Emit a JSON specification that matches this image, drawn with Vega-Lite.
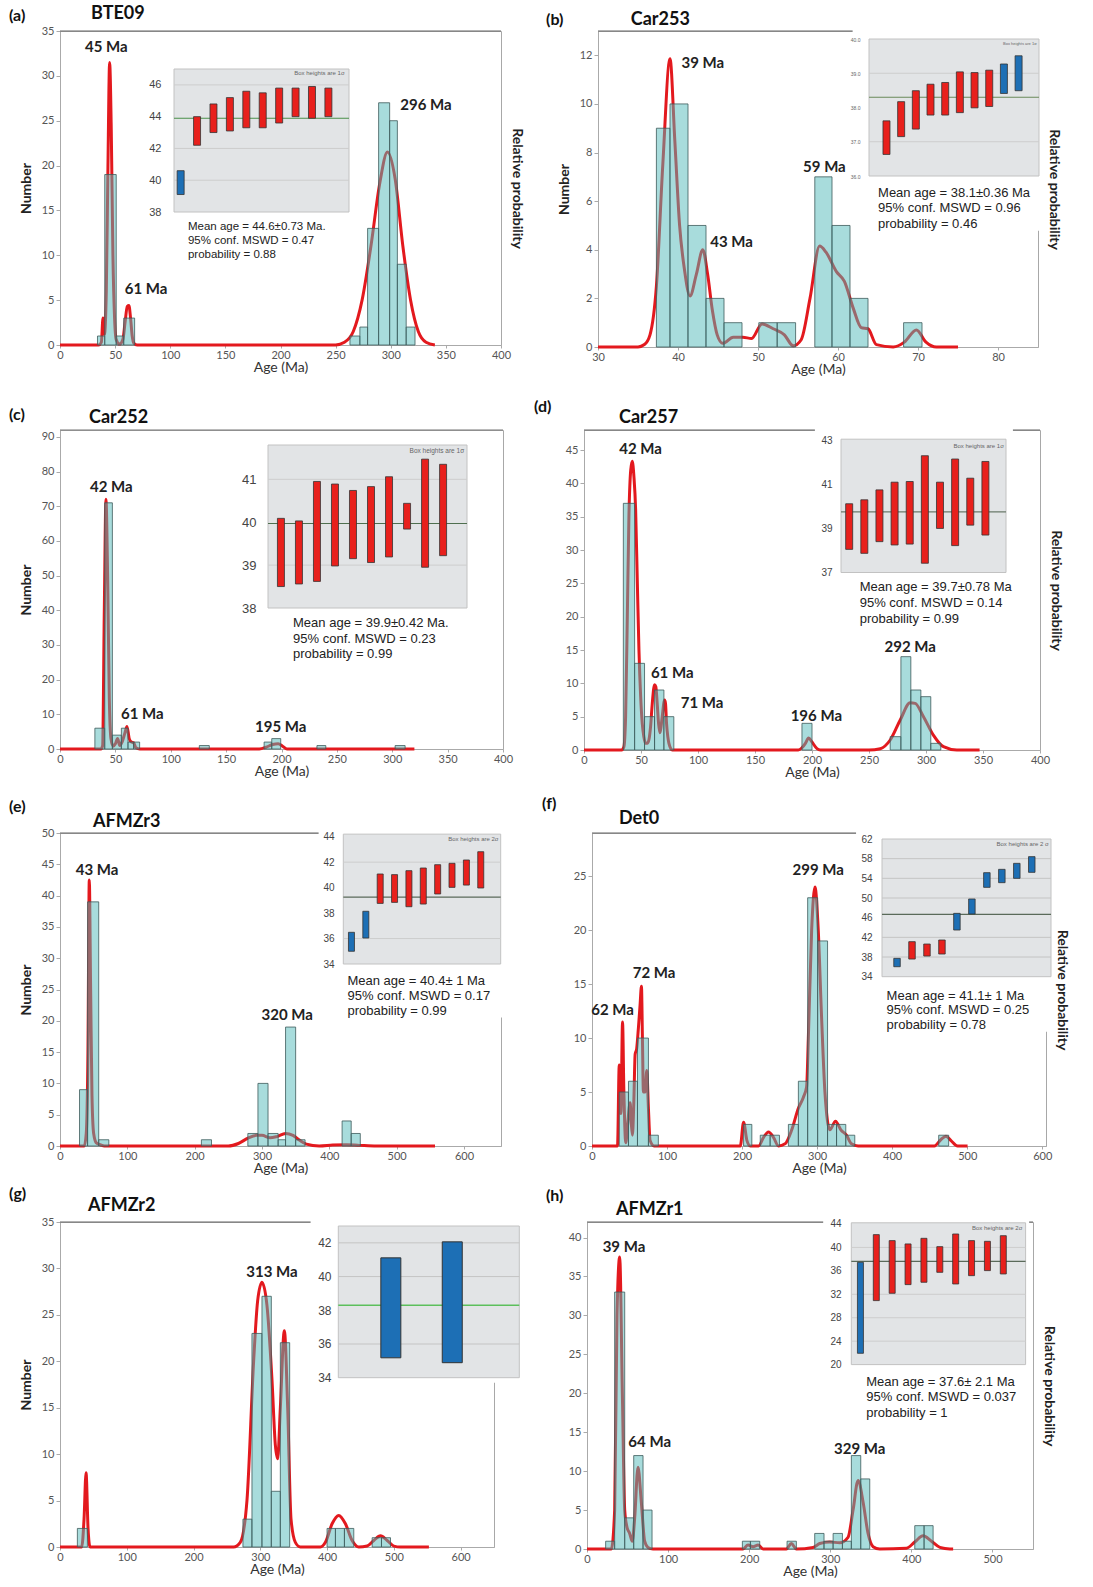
{
"$schema": "https://vega.github.io/schema/vega-lite/v6.json",
"background": "white",
"padding": {"left": 8, "top": 4, "right": 2, "bottom": 2},
"config": {
 "font": "Lato",
 "view": {"stroke": "#a8a8a8"},
 "axisX": {"grid": true, "gridColor": "#c8c8c8", "labelFlush": false, "labelFontSize": 11, "labelColor": "#555555", "tickSize": 3, "tickColor": "#aaaaaa", "domainColor": "#aaaaaa", "titleFontSize": 14, "titleFontWeight": "normal", "titleColor": "#333333", "titlePadding": 0, "labelPadding": 1},
 "axisY": {"grid": false, "labelFontSize": 11, "labelColor": "#555555", "tickSize": 4, "tickColor": "#aaaaaa", "domainColor": "#aaaaaa", "titleFontSize": 14, "titleFontWeight": "bold", "titleColor": "#222222", "titlePadding": 8, "labelPadding": 2}
},
"datasets": {
 "a_bars": [{"x0":34,"x1":40.6,"n":1},{"x0":40.6,"x1":51,"n":19},{"x0":51,"x1":57.8,"n":1},{"x0":57.8,"x1":67.7,"n":3},{"x0":263,"x1":272,"n":1},{"x0":272,"x1":279,"n":2},{"x0":279,"x1":289,"n":13},{"x0":289,"x1":299,"n":27},{"x0":299,"x1":306,"n":25},{"x0":306,"x1":314,"n":9},{"x0":314,"x1":322,"n":2}],
 "a_curve": [{"age":0,"p":0},{"age":35,"p":0},{"age":37.5,"p":0.3},{"age":39,"p":3},{"age":40.3,"p":1.2},{"age":42,"p":6},{"age":43.5,"p":20},{"age":45,"p":31.5},{"age":46.5,"p":24},{"age":48,"p":10},{"age":49.5,"p":3},{"age":51,"p":0.6},{"age":54,"p":0.1},{"age":57,"p":0.6},{"age":59,"p":2.5},{"age":61,"p":4.3},{"age":62.5,"p":4.4},{"age":64,"p":3},{"age":65.5,"p":1},{"age":67,"p":0.2},{"age":70,"p":0},{"age":250,"p":0},{"age":258,"p":0.3},{"age":266,"p":1.5},{"age":274,"p":5},{"age":282,"p":11},{"age":290,"p":18},{"age":297,"p":21.5},{"age":304,"p":18.5},{"age":311,"p":11},{"age":318,"p":5},{"age":325,"p":1.5},{"age":332,"p":0.3},{"age":340,"p":0}],
 "a_peaks": [{"age":42,"n":33.2,"label":"45 Ma"},{"age":78,"n":6.2,"label":"61 Ma"},{"age":332,"n":26.8,"label":"296 Ma"}],
 "a_boxes": [{"i":1,"lo":39.1,"hi":40.6,"group":"B"},{"i":2,"lo":42.2,"hi":44,"group":"A"},{"i":3,"lo":43,"hi":44.8,"group":"A"},{"i":4,"lo":43.1,"hi":45.2,"group":"A"},{"i":5,"lo":43.3,"hi":45.6,"group":"A"},{"i":6,"lo":43.3,"hi":45.5,"group":"A"},{"i":7,"lo":43.6,"hi":45.8,"group":"A"},{"i":8,"lo":44,"hi":45.8,"group":"A"},{"i":9,"lo":43.9,"hi":45.9,"group":"A"},{"i":10,"lo":44,"hi":45.8,"group":"A"}],
 "b_bars": [{"x0":37.3,"x1":39.0,"n":9},{"x0":39.0,"x1":41.25,"n":10},{"x0":41.25,"x1":43.5,"n":5},{"x0":43.5,"x1":45.75,"n":2},{"x0":45.75,"x1":48,"n":1},{"x0":50.1,"x1":52.4,"n":1},{"x0":52.4,"x1":54.7,"n":1},{"x0":57.1,"x1":59.25,"n":7},{"x0":59.25,"x1":61.5,"n":5},{"x0":61.5,"x1":63.75,"n":2},{"x0":68.2,"x1":70.5,"n":1}],
 "b_curve": [{"age":30,"p":0},{"age":35,"p":0},{"age":35.8,"p":0.1},{"age":36.5,"p":0.5},{"age":37.3,"p":2.5},{"age":38.1,"p":7.5},{"age":39,"p":11.86},{"age":39.6,"p":8.5},{"age":40.2,"p":5},{"age":40.8,"p":3.2},{"age":41.5,"p":2.1},{"age":42.3,"p":3},{"age":43.1,"p":4},{"age":43.7,"p":3},{"age":44.3,"p":1.5},{"age":44.9,"p":0.5},{"age":45.6,"p":0.15},{"age":46.9,"p":0.4},{"age":48.1,"p":0.4},{"age":49.2,"p":0.35},{"age":50.5,"p":0.95},{"age":51.9,"p":0.75},{"age":53.3,"p":0.5},{"age":54.4,"p":0.05},{"age":55.4,"p":0.3},{"age":56.5,"p":2},{"age":57.7,"p":4.15},{"age":58.5,"p":3.9},{"age":59.8,"p":3.1},{"age":60.8,"p":2.7},{"age":61.9,"p":1.6},{"age":62.9,"p":0.8},{"age":63.75,"p":0.75},{"age":64.8,"p":0.1},{"age":66.9,"p":0},{"age":68.3,"p":0.2},{"age":69.8,"p":0.7},{"age":71,"p":0.2},{"age":72.3,"p":0},{"age":75,"p":0}],
 "b_peaks": [{"age":43.1,"n":11.7,"label":"39 Ma"},{"age":46.7,"n":4.3,"label":"43 Ma"},{"age":58.3,"n":7.4,"label":"59 Ma"}],
 "b_boxes": [{"i":1,"lo":36.63,"hi":37.61,"group":"A"},{"i":2,"lo":37.15,"hi":38.17,"group":"A"},{"i":3,"lo":37.37,"hi":38.49,"group":"A"},{"i":4,"lo":37.78,"hi":38.68,"group":"A"},{"i":5,"lo":37.78,"hi":38.73,"group":"A"},{"i":6,"lo":37.85,"hi":39.04,"group":"A"},{"i":7,"lo":37.99,"hi":39.02,"group":"A"},{"i":8,"lo":38.03,"hi":39.09,"group":"A"},{"i":9,"lo":38.41,"hi":39.27,"group":"B"},{"i":10,"lo":38.49,"hi":39.51,"group":"B"}],
 "c_bars": [{"x0":31.5,"x1":40.4,"n":6},{"x0":40.4,"x1":47.3,"n":71},{"x0":47.3,"x1":55.4,"n":4},{"x0":55.4,"x1":61.4,"n":6},{"x0":61.4,"x1":66.5,"n":2},{"x0":66.5,"x1":71.9,"n":2},{"x0":125.8,"x1":134.8,"n":1},{"x0":184.3,"x1":191.2,"n":2},{"x0":191.2,"x1":199.3,"n":3},{"x0":232,"x1":240,"n":1},{"x0":302.6,"x1":311.6,"n":1}],
 "c_curve": [{"age":0,"p":0},{"age":37,"p":0},{"age":38.5,"p":1},{"age":40,"p":40},{"age":41.5,"p":72},{"age":43,"p":50},{"age":44.5,"p":15},{"age":46,"p":3},{"age":48,"p":0.8},{"age":50,"p":1.5},{"age":52,"p":3},{"age":54,"p":1},{"age":56,"p":2},{"age":58.5,"p":4.5},{"age":60.5,"p":6.5},{"age":62.5,"p":3},{"age":64.5,"p":2},{"age":66.5,"p":1.8},{"age":68.5,"p":0.4},{"age":72,"p":0},{"age":180,"p":0},{"age":186,"p":0.5},{"age":192,"p":1.3},{"age":197,"p":1.5},{"age":201,"p":0.8},{"age":205,"p":0},{"age":320,"p":0}],
 "c_peaks": [{"age":46.4,"n":75.5,"label":"42 Ma"},{"age":74.3,"n":10,"label":"61 Ma"},{"age":199.3,"n":6.3,"label":"195 Ma"}],
 "c_boxes": [{"i":1,"lo":38.5,"hi":40.09,"group":"A"},{"i":2,"lo":38.56,"hi":40.03,"group":"A"},{"i":3,"lo":38.62,"hi":40.95,"group":"A"},{"i":4,"lo":38.98,"hi":40.89,"group":"A"},{"i":5,"lo":39.15,"hi":40.74,"group":"A"},{"i":6,"lo":39.06,"hi":40.83,"group":"A"},{"i":7,"lo":39.19,"hi":41.06,"group":"A"},{"i":8,"lo":39.84,"hi":40.44,"group":"A"},{"i":9,"lo":38.95,"hi":41.47,"group":"A"},{"i":10,"lo":39.22,"hi":41.35,"group":"A"}],
 "d_bars": [{"x0":34.5,"x1":44.4,"n":37},{"x0":44.4,"x1":53.1,"n":13},{"x0":53.1,"x1":61.9,"n":5},{"x0":61.9,"x1":70.1,"n":9},{"x0":70.1,"x1":78.8,"n":5},{"x0":191.2,"x1":200,"n":4},{"x0":268.6,"x1":278,"n":2},{"x0":278,"x1":286.7,"n":14},{"x0":286.7,"x1":295.5,"n":9},{"x0":295.5,"x1":304.2,"n":8},{"x0":304.2,"x1":313,"n":1}],
 "d_curve": [{"age":0,"p":0},{"age":33,"p":0},{"age":35,"p":0.5},{"age":36.5,"p":5},{"age":38,"p":20},{"age":39.4,"p":35},{"age":41,"p":42},{"age":42.3,"p":43.3},{"age":43.8,"p":41},{"age":45.3,"p":36},{"age":46.8,"p":25},{"age":48.2,"p":15},{"age":49.7,"p":8},{"age":51.1,"p":4},{"age":52.5,"p":2},{"age":54,"p":1},{"age":55.5,"p":1},{"age":56.9,"p":1.5},{"age":58.4,"p":3.5},{"age":59.9,"p":7},{"age":61.9,"p":9.8},{"age":63,"p":9.5},{"age":64.2,"p":7},{"age":65.4,"p":4},{"age":66.6,"p":2.6},{"age":67.6,"p":3.5},{"age":68.6,"p":5},{"age":70.7,"p":7.5},{"age":71.5,"p":7},{"age":72.4,"p":4},{"age":73.5,"p":2},{"age":74.5,"p":1},{"age":77.4,"p":0},{"age":188,"p":0},{"age":191,"p":0.3},{"age":194.2,"p":1},{"age":197,"p":1.8},{"age":200,"p":1.2},{"age":204.4,"p":0.2},{"age":207.3,"p":0},{"age":250,"p":0},{"age":259.9,"p":0.2},{"age":268.6,"p":1.5},{"age":277.4,"p":4.5},{"age":286.1,"p":7.1},{"age":290.5,"p":7},{"age":297.8,"p":5},{"age":306.6,"p":2.2},{"age":315.3,"p":0.5},{"age":327,"p":0},{"age":347,"p":0}],
 "d_peaks": [{"age":49.6,"n":45.1,"label":"42 Ma"},{"age":77.4,"n":11.6,"label":"61 Ma"},{"age":103.6,"n":7,"label":"71 Ma"},{"age":203.8,"n":5.1,"label":"196 Ma"},{"age":286.1,"n":15.5,"label":"292 Ma"}],
 "d_boxes": [{"i":1,"lo":38.05,"hi":40.12,"group":"A"},{"i":2,"lo":37.87,"hi":40.3,"group":"A"},{"i":3,"lo":38.4,"hi":40.75,"group":"A"},{"i":4,"lo":38.25,"hi":41.1,"group":"A"},{"i":5,"lo":38.29,"hi":41.13,"group":"A"},{"i":6,"lo":37.42,"hi":42.3,"group":"A"},{"i":7,"lo":39.0,"hi":41.1,"group":"A"},{"i":8,"lo":38.22,"hi":42.15,"group":"A"},{"i":9,"lo":39.15,"hi":41.28,"group":"A"},{"i":10,"lo":38.7,"hi":42.04,"group":"A"}],
 "e_bars": [{"x0":29,"x1":41,"n":9},{"x0":41,"x1":57.5,"n":39},{"x0":57.5,"x1":72.5,"n":1},{"x0":210,"x1":225,"n":1},{"x0":279,"x1":294,"n":2},{"x0":294,"x1":309,"n":10},{"x0":309,"x1":324,"n":2},{"x0":324,"x1":335,"n":1},{"x0":335,"x1":350,"n":19},{"x0":350,"x1":364,"n":1},{"x0":419,"x1":432.5,"n":4},{"x0":432.5,"x1":446,"n":2}],
 "e_curve": [{"age":0,"p":0},{"age":36,"p":0},{"age":39,"p":2},{"age":41.5,"p":15},{"age":43.5,"p":42.5},{"age":45.5,"p":25},{"age":47.5,"p":8},{"age":50,"p":2},{"age":54,"p":0.5},{"age":60,"p":0.2},{"age":66,"p":0},{"age":250,"p":0},{"age":265,"p":0.4},{"age":280,"p":1.3},{"age":292,"p":1.7},{"age":300,"p":1.7},{"age":312,"p":1.3},{"age":322,"p":1.5},{"age":335,"p":2},{"age":346,"p":1.7},{"age":356,"p":0.9},{"age":366,"p":0.3},{"age":385,"p":0},{"age":405,"p":0.15},{"age":425,"p":0.2},{"age":445,"p":0.1},{"age":470,"p":0},{"age":557,"p":0}],
 "e_peaks": [{"age":55,"n":44.1,"label":"43 Ma"},{"age":337.5,"n":21,"label":"320 Ma"}],
 "e_boxes": [{"i":1,"lo":35.0,"hi":36.49,"group":"B"},{"i":2,"lo":36.04,"hi":38.14,"group":"B"},{"i":3,"lo":38.76,"hi":41.07,"group":"A"},{"i":4,"lo":38.84,"hi":41.02,"group":"A"},{"i":5,"lo":38.5,"hi":41.33,"group":"A"},{"i":6,"lo":38.71,"hi":41.54,"group":"A"},{"i":7,"lo":39.5,"hi":41.8,"group":"A"},{"i":8,"lo":40.02,"hi":41.91,"group":"A"},{"i":9,"lo":40.2,"hi":42.17,"group":"A"},{"i":10,"lo":39.97,"hi":42.82,"group":"A"}],
 "f_bars": [{"x0":36.3,"x1":48.6,"n":5},{"x0":48.6,"x1":60.6,"n":6},{"x0":60.6,"x1":75.2,"n":10},{"x0":75.2,"x1":88.4,"n":1},{"x0":202,"x1":213,"n":2},{"x0":224.2,"x1":237.4,"n":1},{"x0":237.4,"x1":249.8,"n":1},{"x0":261.7,"x1":275,"n":2},{"x0":275,"x1":287.4,"n":6},{"x0":287.4,"x1":300.7,"n":23},{"x0":300.7,"x1":313.9,"n":19},{"x0":313.9,"x1":325.9,"n":2},{"x0":325.9,"x1":338.2,"n":2},{"x0":338.2,"x1":350.2,"n":1},{"x0":462,"x1":475.3,"n":1}],
 "f_curve": [{"age":0,"p":0},{"age":34,"p":0},{"age":36.3,"p":7.5},{"age":38.5,"p":3},{"age":40.7,"p":11.5},{"age":42.5,"p":5},{"age":45,"p":0.3},{"age":47.5,"p":2},{"age":50.8,"p":4},{"age":52.5,"p":2},{"age":53.9,"p":1},{"age":55.7,"p":4},{"age":57.5,"p":8.5},{"age":59.5,"p":9},{"age":61.9,"p":11},{"age":64,"p":13},{"age":65.9,"p":14.8},{"age":67.2,"p":10},{"age":68.5,"p":5},{"age":70.8,"p":5},{"age":73,"p":7},{"age":75.2,"p":3.5},{"age":77.4,"p":0.5},{"age":82.7,"p":0},{"age":197.6,"p":0},{"age":202,"p":2.2},{"age":206.5,"p":0.5},{"age":211,"p":0},{"age":222,"p":0},{"age":228.6,"p":0.8},{"age":235.2,"p":1.3},{"age":241.8,"p":0.8},{"age":248.5,"p":0},{"age":257.3,"p":0.2},{"age":266.2,"p":1.5},{"age":275,"p":3.5},{"age":281.6,"p":4.5},{"age":286,"p":5.5},{"age":288.3,"p":10},{"age":292.7,"p":20},{"age":297.1,"p":24},{"age":301.5,"p":20},{"age":305.9,"p":12},{"age":310.4,"p":5},{"age":317,"p":1.5},{"age":324.5,"p":2.3},{"age":331.6,"p":1.5},{"age":339.1,"p":1},{"age":345.8,"p":0.2},{"age":354.6,"p":0},{"age":456.3,"p":0},{"age":465.1,"p":0.6},{"age":471.7,"p":0.9},{"age":478.4,"p":0.5},{"age":487.2,"p":0},{"age":500.5,"p":0}],
 "f_peaks": [{"age":27.4,"n":12.6,"label":"62 Ma"},{"age":82.7,"n":16,"label":"72 Ma"},{"age":301.5,"n":25.6,"label":"299 Ma"}],
 "f_boxes": [{"i":1,"lo":36.03,"hi":37.73,"group":"B"},{"i":2,"lo":37.59,"hi":41.12,"group":"A"},{"i":3,"lo":38.2,"hi":40.64,"group":"A"},{"i":4,"lo":38.61,"hi":41.46,"group":"A"},{"i":5,"lo":43.49,"hi":46.88,"group":"B"},{"i":6,"lo":46.75,"hi":49.8,"group":"B"},{"i":7,"lo":52.17,"hi":55.15,"group":"B"},{"i":8,"lo":53.12,"hi":55.83,"group":"B"},{"i":9,"lo":54.0,"hi":57.05,"group":"B"},{"i":10,"lo":55.22,"hi":58.41,"group":"B"}],
 "g_bars": [{"x0":26,"x1":41,"n":2},{"x0":274,"x1":287.5,"n":3},{"x0":287.5,"x1":302.5,"n":23},{"x0":302.5,"x1":316.5,"n":27},{"x0":316.5,"x1":330,"n":6},{"x0":330,"x1":344,"n":22},{"x0":400,"x1":412.5,"n":2},{"x0":412.5,"x1":426,"n":2},{"x0":426,"x1":440,"n":2},{"x0":467.5,"x1":481.5,"n":1},{"x0":481.5,"x1":495,"n":1}],
 "g_curve": [{"age":0,"p":0},{"age":32.5,"p":0},{"age":36,"p":3},{"age":39,"p":8},{"age":42,"p":2},{"age":45,"p":0},{"age":260,"p":0},{"age":270,"p":0.5},{"age":280,"p":5},{"age":290,"p":20},{"age":296,"p":26.5},{"age":302.5,"p":28.5},{"age":310,"p":26},{"age":317.5,"p":18},{"age":322.5,"p":11},{"age":326,"p":9.5},{"age":330,"p":15},{"age":336,"p":23.3},{"age":341,"p":15},{"age":346,"p":3},{"age":352.5,"p":0.5},{"age":360,"p":0},{"age":390,"p":0},{"age":397.5,"p":0.5},{"age":407.5,"p":2.5},{"age":417.5,"p":3.4},{"age":427.5,"p":2.5},{"age":437.5,"p":0.7},{"age":447.5,"p":0},{"age":460,"p":0.1},{"age":470,"p":0.7},{"age":480,"p":1.2},{"age":490,"p":0.7},{"age":500,"p":0.1},{"age":510,"p":0},{"age":552.5,"p":0}],
 "g_peaks": [{"age":317.5,"n":29.6,"label":"313 Ma"}],
 "g_boxes": [{"i":1,"lo":35.18,"hi":41.11,"group":"B"},{"i":2,"lo":34.89,"hi":42.06,"group":"B"}],
 "h_bars": [{"x0":23,"x1":34.1,"n":1},{"x0":34.1,"x1":46.5,"n":33},{"x0":46.5,"x1":57.6,"n":4},{"x0":57.6,"x1":69.1,"n":12},{"x0":69.1,"x1":80.2,"n":5},{"x0":191.6,"x1":201.5,"n":1},{"x0":201.5,"x1":213,"n":1},{"x0":246.7,"x1":258.2,"n":1},{"x0":280.8,"x1":292.3,"n":2},{"x0":292.3,"x1":303.5,"n":1},{"x0":303.5,"x1":315,"n":2},{"x0":315,"x1":326,"n":1},{"x0":326,"x1":337.6,"n":12},{"x0":337.6,"x1":348.7,"n":9},{"x0":404.2,"x1":415.7,"n":3},{"x0":415.7,"x1":426.8,"n":3}],
 "h_curve": [{"age":0,"p":0},{"age":30,"p":0},{"age":34.1,"p":5},{"age":37,"p":30},{"age":40.3,"p":37.5},{"age":43.6,"p":20},{"age":46.5,"p":5},{"age":49.3,"p":2.8},{"age":52.6,"p":2},{"age":55.9,"p":1},{"age":58.8,"p":4},{"age":62.9,"p":10.5},{"age":67,"p":6},{"age":71.1,"p":1},{"age":75.2,"p":0.2},{"age":81.4,"p":0},{"age":192.4,"p":0},{"age":198.6,"p":0.5},{"age":204.8,"p":0.3},{"age":211,"p":0.5},{"age":217.1,"p":0},{"age":245.9,"p":0},{"age":252,"p":0.7},{"age":258.2,"p":0},{"age":278.8,"p":0.2},{"age":287,"p":0.7},{"age":299.3,"p":0.9},{"age":311.6,"p":0.8},{"age":321.9,"p":1.5},{"age":328.1,"p":5},{"age":334.3,"p":8.8},{"age":340.5,"p":6},{"age":346.6,"p":2},{"age":352.8,"p":0.3},{"age":361,"p":0},{"age":393.9,"p":0.1},{"age":404.2,"p":0.9},{"age":414.5,"p":1.7},{"age":424.8,"p":1},{"age":435.2,"p":0.2},{"age":447.4,"p":0},{"age":451.5,"p":0}],
 "h_peaks": [{"age":45.6,"n":38.8,"label":"39 Ma"},{"age":77.3,"n":13.7,"label":"64 Ma"},{"age":336.3,"n":12.9,"label":"329 Ma"}],
 "h_boxes": [{"i":1,"lo":21.93,"hi":37.46,"group":"B"},{"i":2,"lo":30.92,"hi":42.18,"group":"A"},{"i":3,"lo":32.17,"hi":41.16,"group":"A"},{"i":4,"lo":33.65,"hi":40.59,"group":"A"},{"i":5,"lo":34.05,"hi":41.55,"group":"A"},{"i":6,"lo":35.75,"hi":40.13,"group":"A"},{"i":7,"lo":33.76,"hi":42.29,"group":"A"},{"i":8,"lo":35.18,"hi":41.16,"group":"A"},{"i":9,"lo":36.04,"hi":41.04,"group":"A"},{"i":10,"lo":35.47,"hi":42.0,"group":"A"}]
},
"spacing": 21,
"vconcat": [
{"hconcat": [
{
 "width": 441, "height": 314,
 "resolve": {"scale": {"x": "independent", "y": "independent"}},
 "layer": [
  {"data": {"name": "a_curve"}, "mark": {"type": "line", "color": "#e3191e", "strokeWidth": 3, "interpolate": "monotone"},
   "encoding": {"x": {"field": "age", "type": "quantitative", "scale": {"domain": [0, 400], "nice": false, "zero": false}, "axis": null},
    "y": {"field": "p", "type": "quantitative", "scale": {"domain": [0, 35], "nice": false, "zero": false}, "axis": {"orient": "right", "title": "Relative probability", "labels": false, "ticks": false, "domain": false, "grid": false, "titlePadding": 8}}}},
  {"data": {"name": "a_bars"}, "mark": {"type": "rect", "fill": "#51b9b9", "fillOpacity": 0.5, "stroke": "#3d5b5b", "strokeWidth": 0.8},
   "encoding": {"x": {"field": "x0", "type": "quantitative", "scale": {"domain": [0, 400], "nice": false, "zero": false}, "axis": {"title": "Age (Ma)", "values": [0,50,100,150,200,250,300,350,400]}},
    "x2": {"field": "x1"},
    "y": {"field": "n", "type": "quantitative", "scale": {"domain": [0, 35], "nice": false, "zero": false}, "axis": {"title": "Number", "values": [0,5,10,15,20,25,30,35]}},
    "y2": {"datum": 0}}},
  {"data": {"values": [{}]}, "mark": {"type": "rule", "color": "#666666", "strokeWidth": 1.2},
   "encoding": {"x": {"datum": 0, "type": "quantitative", "scale": {"domain": [0, 400], "nice": false, "zero": false}, "axis": null}, "x2": {"datum": 400}, "y": {"datum": 35, "type": "quantitative", "scale": {"domain": [0, 35], "nice": false, "zero": false}, "axis": null}}},
  {"data": {"name": "a_peaks"}, "mark": {"type": "text", "fontWeight": "bold", "fontSize": 15, "color": "#222222"},
   "encoding": {"x": {"field": "age", "type": "quantitative", "scale": {"domain": [0, 400], "nice": false, "zero": false}, "axis": null}, "y": {"field": "n", "type": "quantitative", "scale": {"domain": [0, 35], "nice": false, "zero": false}, "axis": null}, "text": {"field": "label"}}},
  {"data": {"values": [{}]}, "mark": {"type": "text", "fontWeight": "bold", "fontSize": 16, "align": "left", "baseline": "middle", "color": "#111111"},
   "encoding": {"x": {"datum": -46.3, "type": "quantitative", "scale": {"domain": [0, 400], "nice": false, "zero": false}, "axis": null}, "y": {"datum": 36.67, "type": "quantitative", "scale": {"domain": [0, 35], "nice": false, "zero": false}, "axis": null}, "text": {"value": "(a)"}}},
  {"data": {"values": [{}]}, "mark": {"type": "text", "fontWeight": "bold", "fontSize": 18, "align": "left", "baseline": "middle", "color": "#111111"},
   "encoding": {"x": {"datum": 28.1, "type": "quantitative", "scale": {"domain": [0, 400], "nice": false, "zero": false}, "axis": null}, "y": {"datum": 36.9, "type": "quantitative", "scale": {"domain": [0, 35], "nice": false, "zero": false}, "axis": null}, "text": {"value": "BTE09"}}},
  {"data": {"values": [{}]}, "mark": {"type": "rect", "fill": "#ffffff"},
   "encoding": {"x": {"datum": -0.7, "type": "quantitative", "scale": {"domain": [0.9, 10.95], "range": [114, 289], "nice": false, "zero": false}, "axis": null},
    "x2": {"datum": 10.95},
    "y": {"datum": 34.8, "type": "quantitative", "scale": {"domain": [38, 47], "range": [181, 38], "nice": false, "zero": false}, "axis": {"orient": "left", "offset": -101, "values": [38,40,42,44,46], "labelFontSize": 11, "labelFont": "Liberation Sans", "labelColor": "#444444", "ticks": false, "domain": false, "grid": false, "title": null, "labelPadding": 0, "zindex": 1}},
    "y2": {"datum": 47.2}}},
  {"data": {"values": [{}]}, "mark": {"type": "rect", "fill": "#e2e4e6", "stroke": "#c2c2c2", "strokeWidth": 1},
   "encoding": {"x": {"datum": 0.9, "type": "quantitative", "scale": {"domain": [0.9, 10.95], "range": [114, 289], "nice": false, "zero": false}, "axis": null}, "x2": {"datum": 10.95}, "y": {"datum": 38, "type": "quantitative", "scale": {"domain": [38, 47], "range": [181, 38], "nice": false, "zero": false}, "axis": null}, "y2": {"datum": 47}}},
  {"data": {"values": [{"v": 40}, {"v": 42}, {"v": 46}]}, "mark": {"type": "rule", "color": "#cdcdcd", "strokeWidth": 1},
   "encoding": {"y": {"field": "v", "type": "quantitative", "scale": {"domain": [38, 47], "range": [181, 38], "nice": false, "zero": false}, "axis": null}, "x": {"datum": 0.9, "type": "quantitative", "scale": {"domain": [0.9, 10.95], "range": [114, 289], "nice": false, "zero": false}, "axis": null}, "x2": {"datum": 10.95}}},
  {"data": {"values": [{}]}, "mark": {"type": "rule", "color": "#4a904a", "strokeWidth": 1.2},
   "encoding": {"y": {"datum": 43.9, "type": "quantitative", "scale": {"domain": [38, 47], "range": [181, 38], "nice": false, "zero": false}, "axis": null}, "x": {"datum": 0.9, "type": "quantitative", "scale": {"domain": [0.9, 10.95], "range": [114, 289], "nice": false, "zero": false}, "axis": null}, "x2": {"datum": 10.95}}},
  {"data": {"name": "a_boxes"}, "mark": {"type": "bar", "width": 7, "stroke": "#333333", "strokeWidth": 0.8},
   "encoding": {"x": {"field": "i", "type": "quantitative", "scale": {"domain": [0.9, 10.95], "range": [114, 289], "nice": false, "zero": false}, "axis": null}, "y": {"field": "lo", "type": "quantitative", "scale": {"domain": [38, 47], "range": [181, 38], "nice": false, "zero": false}, "axis": null}, "y2": {"field": "hi"},
    "fill": {"field": "group", "type": "nominal", "scale": {"domain": ["A", "B"], "range": ["#e8201c", "#1d6fb5"]}, "legend": null}}},
  {"data": {"values": [{}]}, "mark": {"type": "text", "font": "Liberation Sans", "fontSize": 6, "align": "right", "baseline": "middle", "color": "#666666"},
   "encoding": {"x": {"datum": 10.7, "type": "quantitative", "scale": {"domain": [0.9, 10.95], "range": [114, 289], "nice": false, "zero": false}, "axis": null}, "y": {"datum": 46.75, "type": "quantitative", "scale": {"domain": [38, 47], "range": [181, 38], "nice": false, "zero": false}, "axis": null}, "text": {"value": "Box heights are 1σ"}}},
  {"data": {"values": [{}]}, "mark": {"type": "text", "font": "Liberation Sans", "fontSize": 11.5, "lineHeight": 14, "align": "left", "baseline": "top", "color": "#222222"},
   "encoding": {"x": {"datum": 1.7, "type": "quantitative", "scale": {"domain": [0.9, 10.95], "range": [114, 289], "nice": false, "zero": false}, "axis": null}, "y": {"datum": 37.43, "type": "quantitative", "scale": {"domain": [38, 47], "range": [181, 38], "nice": false, "zero": false}, "axis": null}, "text": {"value": ["Mean age = 44.6±0.73 Ma.", "95% conf. MSWD = 0.47", "probability = 0.88"]}}}
 ]
},
{
 "width": 440, "height": 316,
 "resolve": {"scale": {"x": "independent", "y": "independent"}},
 "layer": [
  {"data": {"name": "b_curve"}, "mark": {"type": "line", "color": "#e3191e", "strokeWidth": 3, "interpolate": "monotone"},
   "encoding": {"x": {"field": "age", "type": "quantitative", "scale": {"domain": [30, 85], "nice": false, "zero": false}, "axis": null},
    "y": {"field": "p", "type": "quantitative", "scale": {"domain": [0, 13], "nice": false, "zero": false}, "axis": {"orient": "right", "title": "Relative probability", "labels": false, "ticks": false, "domain": false, "grid": false, "titlePadding": 8}}}},
  {"data": {"name": "b_bars"}, "mark": {"type": "rect", "fill": "#51b9b9", "fillOpacity": 0.5, "stroke": "#3d5b5b", "strokeWidth": 0.8},
   "encoding": {"x": {"field": "x0", "type": "quantitative", "scale": {"domain": [30, 85], "nice": false, "zero": false}, "axis": {"title": "Age (Ma)", "values": [30,40,50,60,70,80]}},
    "x2": {"field": "x1"},
    "y": {"field": "n", "type": "quantitative", "scale": {"domain": [0, 13], "nice": false, "zero": false}, "axis": {"title": "Number", "values": [0,2,4,6,8,10,12]}},
    "y2": {"datum": 0}}},
  {"data": {"values": [{}]}, "mark": {"type": "rule", "color": "#666666", "strokeWidth": 1.2},
   "encoding": {"x": {"datum": 30, "type": "quantitative", "scale": {"domain": [30, 85], "nice": false, "zero": false}, "axis": null}, "x2": {"datum": 85}, "y": {"datum": 13, "type": "quantitative", "scale": {"domain": [0, 13], "nice": false, "zero": false}, "axis": null}}},
  {"data": {"name": "b_peaks"}, "mark": {"type": "text", "fontWeight": "bold", "fontSize": 15, "color": "#222222"},
   "encoding": {"x": {"field": "age", "type": "quantitative", "scale": {"domain": [30, 85], "nice": false, "zero": false}, "axis": null}, "y": {"field": "n", "type": "quantitative", "scale": {"domain": [0, 13], "nice": false, "zero": false}, "axis": null}, "text": {"field": "label"}}},
  {"data": {"values": [{}]}, "mark": {"type": "text", "fontWeight": "bold", "fontSize": 16, "align": "left", "baseline": "middle", "color": "#111111"},
   "encoding": {"x": {"datum": 23.5, "type": "quantitative", "scale": {"domain": [30, 85], "nice": false, "zero": false}, "axis": null}, "y": {"datum": 13.45, "type": "quantitative", "scale": {"domain": [0, 13], "nice": false, "zero": false}, "axis": null}, "text": {"value": "(b)"}}},
  {"data": {"values": [{}]}, "mark": {"type": "text", "fontWeight": "bold", "fontSize": 18, "align": "left", "baseline": "middle", "color": "#111111"},
   "encoding": {"x": {"datum": 34.1, "type": "quantitative", "scale": {"domain": [30, 85], "nice": false, "zero": false}, "axis": null}, "y": {"datum": 13.45, "type": "quantitative", "scale": {"domain": [0, 13], "nice": false, "zero": false}, "axis": null}, "text": {"value": "Car253"}}},
  {"data": {"values": [{}]}, "mark": {"type": "rect", "fill": "#ffffff"},
   "encoding": {"x": {"datum": -0.9, "type": "quantitative", "scale": {"domain": [0.15, 11.05], "range": [271, 441], "nice": false, "zero": false}, "axis": null},
    "x2": {"datum": 11.1},
    "y": {"datum": 34.4, "type": "quantitative", "scale": {"domain": [36, 40], "range": [145, 8], "nice": false, "zero": false}, "axis": {"orient": "left", "offset": -262, "values": [36,37,38,39,40], "format": ".1f", "labelFontSize": 5, "labelFont": "Liberation Sans", "labelColor": "#666666", "ticks": false, "domain": false, "grid": false, "title": null, "labelPadding": 0, "zindex": 1}},
    "y2": {"datum": 40.35}}},
  {"data": {"values": [{}]}, "mark": {"type": "rect", "fill": "#e2e4e6", "stroke": "#c2c2c2", "strokeWidth": 1},
   "encoding": {"x": {"datum": 0.15, "type": "quantitative", "scale": {"domain": [0.15, 11.05], "range": [271, 441], "nice": false, "zero": false}, "axis": null}, "x2": {"datum": 11.05}, "y": {"datum": 36, "type": "quantitative", "scale": {"domain": [36, 40], "range": [145, 8], "nice": false, "zero": false}, "axis": null}, "y2": {"datum": 40}}},
  {"data": {"values": [{"v": 37}, {"v": 39}]}, "mark": {"type": "rule", "color": "#cdcdcd", "strokeWidth": 1},
   "encoding": {"y": {"field": "v", "type": "quantitative", "scale": {"domain": [36, 40], "range": [145, 8], "nice": false, "zero": false}, "axis": null}, "x": {"datum": 0.15, "type": "quantitative", "scale": {"domain": [0.15, 11.05], "range": [271, 441], "nice": false, "zero": false}, "axis": null}, "x2": {"datum": 11.05}}},
  {"data": {"values": [{}]}, "mark": {"type": "rule", "color": "#6a8a5a", "strokeWidth": 1.2},
   "encoding": {"y": {"datum": 38.3, "type": "quantitative", "scale": {"domain": [36, 40], "range": [145, 8], "nice": false, "zero": false}, "axis": null}, "x": {"datum": 0.15, "type": "quantitative", "scale": {"domain": [0.15, 11.05], "range": [271, 441], "nice": false, "zero": false}, "axis": null}, "x2": {"datum": 11.05}}},
  {"data": {"name": "b_boxes"}, "mark": {"type": "bar", "width": 7, "stroke": "#333333", "strokeWidth": 0.8},
   "encoding": {"x": {"field": "i", "type": "quantitative", "scale": {"domain": [0.15, 11.05], "range": [271, 441], "nice": false, "zero": false}, "axis": null}, "y": {"field": "lo", "type": "quantitative", "scale": {"domain": [36, 40], "range": [145, 8], "nice": false, "zero": false}, "axis": null}, "y2": {"field": "hi"},
    "fill": {"field": "group", "type": "nominal", "scale": {"domain": ["A", "B"], "range": ["#e8201c", "#1d6fb5"]}, "legend": null}}},
  {"data": {"values": [{}]}, "mark": {"type": "text", "font": "Liberation Sans", "fontSize": 4, "align": "right", "baseline": "middle", "color": "#666666"},
   "encoding": {"x": {"datum": 10.9, "type": "quantitative", "scale": {"domain": [0.15, 11.05], "range": [271, 441], "nice": false, "zero": false}, "axis": null}, "y": {"datum": 39.85, "type": "quantitative", "scale": {"domain": [36, 40], "range": [145, 8], "nice": false, "zero": false}, "axis": null}, "text": {"value": "Box heights are 1σ"}}},
  {"data": {"values": [{}]}, "mark": {"type": "text", "font": "Liberation Sans", "fontSize": 13, "lineHeight": 15.3, "align": "left", "baseline": "top", "color": "#222222"},
   "encoding": {"x": {"datum": 0.73, "type": "quantitative", "scale": {"domain": [0.15, 11.05], "range": [271, 441], "nice": false, "zero": false}, "axis": null}, "y": {"datum": 35.68, "type": "quantitative", "scale": {"domain": [36, 40], "range": [145, 8], "nice": false, "zero": false}, "axis": null}, "text": {"value": ["Mean age = 38.1±0.36 Ma", "95% conf. MSWD = 0.96", "probability = 0.46"]}}}
 ]
}
], "spacing": 21},
{"spacing": 15, "vconcat": [
{"hconcat": [
{
 "width": 443, "height": 319,
 "resolve": {"scale": {"x": "independent", "y": "independent"}},
 "layer": [
  {"data": {"name": "c_curve"}, "mark": {"type": "line", "color": "#e3191e", "strokeWidth": 3, "interpolate": "monotone"},
   "encoding": {"x": {"field": "age", "type": "quantitative", "scale": {"domain": [0, 400], "nice": false, "zero": false}, "axis": null},
    "y": {"field": "p", "type": "quantitative", "scale": {"domain": [0, 92], "nice": false, "zero": false}, "axis": null}}},
  {"data": {"name": "c_bars"}, "mark": {"type": "rect", "fill": "#51b9b9", "fillOpacity": 0.5, "stroke": "#3d5b5b", "strokeWidth": 0.8},
   "encoding": {"x": {"field": "x0", "type": "quantitative", "scale": {"domain": [0, 400], "nice": false, "zero": false}, "axis": {"title": "Age (Ma)", "values": [0,50,100,150,200,250,300,350,400]}},
    "x2": {"field": "x1"},
    "y": {"field": "n", "type": "quantitative", "scale": {"domain": [0, 92], "nice": false, "zero": false}, "axis": {"title": "Number", "values": [0,10,20,30,40,50,60,70,80,90]}},
    "y2": {"datum": 0}}},
  {"data": {"values": [{}]}, "mark": {"type": "rule", "color": "#777777", "strokeWidth": 1.2},
   "encoding": {"x": {"datum": 0, "type": "quantitative", "scale": {"domain": [0, 400], "nice": false, "zero": false}, "axis": null}, "x2": {"datum": 400}, "y": {"datum": 92, "type": "quantitative", "scale": {"domain": [0, 92], "nice": false, "zero": false}, "axis": null}}},
  {"data": {"name": "c_peaks"}, "mark": {"type": "text", "fontWeight": "bold", "fontSize": 15, "color": "#222222"},
   "encoding": {"x": {"field": "age", "type": "quantitative", "scale": {"domain": [0, 400], "nice": false, "zero": false}, "axis": null}, "y": {"field": "n", "type": "quantitative", "scale": {"domain": [0, 92], "nice": false, "zero": false}, "axis": null}, "text": {"field": "label"}}},
  {"data": {"values": [{}]}, "mark": {"type": "text", "fontWeight": "bold", "fontSize": 16, "align": "left", "baseline": "middle", "color": "#111111"},
   "encoding": {"x": {"datum": -46, "type": "quantitative", "scale": {"domain": [0, 400], "nice": false, "zero": false}, "axis": null}, "y": {"datum": 96.3, "type": "quantitative", "scale": {"domain": [0, 92], "nice": false, "zero": false}, "axis": null}, "text": {"value": "(c)"}}},
  {"data": {"values": [{}]}, "mark": {"type": "text", "fontWeight": "bold", "fontSize": 18, "align": "left", "baseline": "middle", "color": "#111111"},
   "encoding": {"x": {"datum": 26.2, "type": "quantitative", "scale": {"domain": [0, 400], "nice": false, "zero": false}, "axis": null}, "y": {"datum": 95.5, "type": "quantitative", "scale": {"domain": [0, 92], "nice": false, "zero": false}, "axis": null}, "text": {"value": "Car252"}}},
  {"data": {"values": [{}]}, "mark": {"type": "rect", "fill": "#ffffff"},
   "encoding": {"x": {"datum": -0.86, "type": "quantitative", "scale": {"domain": [0.56, 11.05], "range": [208, 407], "nice": false, "zero": false}, "axis": null},
    "x2": {"datum": 11.05},
    "y": {"datum": 36.8, "type": "quantitative", "scale": {"domain": [38, 41.8], "range": [178, 15], "nice": false, "zero": false}, "axis": {"orient": "left", "offset": -196, "values": [38,39,40,41], "labelFontSize": 13, "labelFont": "Liberation Sans", "labelColor": "#444444", "ticks": false, "domain": false, "grid": false, "title": null, "labelPadding": 0, "zindex": 1}},
    "y2": {"datum": 41.9}}},
  {"data": {"values": [{}]}, "mark": {"type": "rect", "fill": "#e2e4e6", "stroke": "#c2c2c2", "strokeWidth": 1},
   "encoding": {"x": {"datum": 0.56, "type": "quantitative", "scale": {"domain": [0.56, 11.05], "range": [208, 407], "nice": false, "zero": false}, "axis": null}, "x2": {"datum": 11.05}, "y": {"datum": 38, "type": "quantitative", "scale": {"domain": [38, 41.8], "range": [178, 15], "nice": false, "zero": false}, "axis": null}, "y2": {"datum": 41.8}}},
  {"data": {"values": [{"v": 39}, {"v": 41}]}, "mark": {"type": "rule", "color": "#cdcdcd", "strokeWidth": 1},
   "encoding": {"y": {"field": "v", "type": "quantitative", "scale": {"domain": [38, 41.8], "range": [178, 15], "nice": false, "zero": false}, "axis": null}, "x": {"datum": 0.56, "type": "quantitative", "scale": {"domain": [0.56, 11.05], "range": [208, 407], "nice": false, "zero": false}, "axis": null}, "x2": {"datum": 11.05}}},
  {"data": {"values": [{}]}, "mark": {"type": "rule", "color": "#4f6f4f", "strokeWidth": 1.2},
   "encoding": {"y": {"datum": 39.97, "type": "quantitative", "scale": {"domain": [38, 41.8], "range": [178, 15], "nice": false, "zero": false}, "axis": null}, "x": {"datum": 0.56, "type": "quantitative", "scale": {"domain": [0.56, 11.05], "range": [208, 407], "nice": false, "zero": false}, "axis": null}, "x2": {"datum": 11.05}}},
  {"data": {"name": "c_boxes"}, "mark": {"type": "bar", "width": 7, "stroke": "#333333", "strokeWidth": 0.8},
   "encoding": {"x": {"field": "i", "type": "quantitative", "scale": {"domain": [0.56, 11.05], "range": [208, 407], "nice": false, "zero": false}, "axis": null}, "y": {"field": "lo", "type": "quantitative", "scale": {"domain": [38, 41.8], "range": [178, 15], "nice": false, "zero": false}, "axis": null}, "y2": {"field": "hi"},
    "fill": {"field": "group", "type": "nominal", "scale": {"domain": ["A", "B"], "range": ["#e8201c", "#1d6fb5"]}, "legend": null}}},
  {"data": {"values": [{}]}, "mark": {"type": "text", "font": "Liberation Sans", "fontSize": 6.5, "align": "right", "baseline": "middle", "color": "#666666"},
   "encoding": {"x": {"datum": 10.9, "type": "quantitative", "scale": {"domain": [0.56, 11.05], "range": [208, 407], "nice": false, "zero": false}, "axis": null}, "y": {"datum": 41.65, "type": "quantitative", "scale": {"domain": [38, 41.8], "range": [178, 15], "nice": false, "zero": false}, "axis": null}, "text": {"value": "Box heights are 1σ"}}},
  {"data": {"values": [{}]}, "mark": {"type": "text", "font": "Liberation Sans", "fontSize": 13, "lineHeight": 15.7, "align": "left", "baseline": "top", "color": "#222222"},
   "encoding": {"x": {"datum": 1.88, "type": "quantitative", "scale": {"domain": [0.56, 11.05], "range": [208, 407], "nice": false, "zero": false}, "axis": null}, "y": {"datum": 37.79, "type": "quantitative", "scale": {"domain": [38, 41.8], "range": [178, 15], "nice": false, "zero": false}, "axis": null}, "text": {"value": ["Mean age = 39.9±0.42 Ma.", "95% conf. MSWD = 0.23", "probability = 0.99"]}}}
 ]
},
{
 "width": 456, "height": 320,
 "resolve": {"scale": {"x": "independent", "y": "independent"}},
 "layer": [
  {"data": {"name": "d_curve"}, "mark": {"type": "line", "color": "#e3191e", "strokeWidth": 3, "interpolate": "monotone"},
   "encoding": {"x": {"field": "age", "type": "quantitative", "scale": {"domain": [0, 400], "nice": false, "zero": false}, "axis": null},
    "y": {"field": "p", "type": "quantitative", "scale": {"domain": [0, 48], "nice": false, "zero": false}, "axis": {"orient": "right", "title": "Relative probability", "labels": false, "ticks": false, "domain": false, "grid": false, "titlePadding": 8}}}},
  {"data": {"name": "d_bars"}, "mark": {"type": "rect", "fill": "#51b9b9", "fillOpacity": 0.5, "stroke": "#3d5b5b", "strokeWidth": 0.8},
   "encoding": {"x": {"field": "x0", "type": "quantitative", "scale": {"domain": [0, 400], "nice": false, "zero": false}, "axis": {"title": "Age (Ma)", "values": [0,50,100,150,200,250,300,350,400]}},
    "x2": {"field": "x1"},
    "y": {"field": "n", "type": "quantitative", "scale": {"domain": [0, 48], "nice": false, "zero": false}, "axis": {"title": null, "values": [0,5,10,15,20,25,30,35,40,45]}},
    "y2": {"datum": 0}}},
  {"data": {"values": [{}]}, "mark": {"type": "rule", "color": "#666666", "strokeWidth": 1.2},
   "encoding": {"x": {"datum": 0, "type": "quantitative", "scale": {"domain": [0, 400], "nice": false, "zero": false}, "axis": null}, "x2": {"datum": 400}, "y": {"datum": 48, "type": "quantitative", "scale": {"domain": [0, 48], "nice": false, "zero": false}, "axis": null}}},
  {"data": {"name": "d_peaks"}, "mark": {"type": "text", "fontWeight": "bold", "fontSize": 15, "color": "#222222"},
   "encoding": {"x": {"field": "age", "type": "quantitative", "scale": {"domain": [0, 400], "nice": false, "zero": false}, "axis": null}, "y": {"field": "n", "type": "quantitative", "scale": {"domain": [0, 48], "nice": false, "zero": false}, "axis": null}, "text": {"field": "label"}}},
  {"data": {"values": [{}]}, "mark": {"type": "text", "fontWeight": "bold", "fontSize": 16, "align": "left", "baseline": "middle", "color": "#111111"},
   "encoding": {"x": {"datum": -43.9, "type": "quantitative", "scale": {"domain": [0, 400], "nice": false, "zero": false}, "axis": null}, "y": {"datum": 51.45, "type": "quantitative", "scale": {"domain": [0, 48], "nice": false, "zero": false}, "axis": null}, "text": {"value": "(d)"}}},
  {"data": {"values": [{}]}, "mark": {"type": "text", "fontWeight": "bold", "fontSize": 18, "align": "left", "baseline": "middle", "color": "#111111"},
   "encoding": {"x": {"datum": 30.7, "type": "quantitative", "scale": {"domain": [0, 400], "nice": false, "zero": false}, "axis": null}, "y": {"datum": 49.8, "type": "quantitative", "scale": {"domain": [0, 48], "nice": false, "zero": false}, "axis": null}, "text": {"value": "Car257"}}},
  {"data": {"values": [{}]}, "mark": {"type": "rect", "fill": "#ffffff"},
   "encoding": {"x": {"datum": -0.83, "type": "quantitative", "scale": {"domain": [0.79, 11.03], "range": [257, 422], "nice": false, "zero": false}, "axis": null},
    "x2": {"datum": 11.46},
    "y": {"datum": 34.6, "type": "quantitative", "scale": {"domain": [37, 43.05], "range": [142.5, 9.2], "nice": false, "zero": false}, "axis": {"orient": "left", "offset": -248, "values": [37,39,41,43], "labelFontSize": 10, "labelFont": "Liberation Sans", "labelColor": "#444444", "ticks": false, "domain": false, "grid": false, "title": null, "labelPadding": 0, "zindex": 1}},
    "y2": {"datum": 43.85}}},
  {"data": {"values": [{}]}, "mark": {"type": "rect", "fill": "#e2e4e6", "stroke": "#c2c2c2", "strokeWidth": 1},
   "encoding": {"x": {"datum": 0.79, "type": "quantitative", "scale": {"domain": [0.79, 11.03], "range": [257, 422], "nice": false, "zero": false}, "axis": null}, "x2": {"datum": 11.03}, "y": {"datum": 37, "type": "quantitative", "scale": {"domain": [37, 43.05], "range": [142.5, 9.2], "nice": false, "zero": false}, "axis": null}, "y2": {"datum": 43.05}}},
  {"data": {"values": [{}]}, "mark": {"type": "rule", "color": "#6a7a6a", "strokeWidth": 1.2},
   "encoding": {"y": {"datum": 39.75, "type": "quantitative", "scale": {"domain": [37, 43.05], "range": [142.5, 9.2], "nice": false, "zero": false}, "axis": null}, "x": {"datum": 0.79, "type": "quantitative", "scale": {"domain": [0.79, 11.03], "range": [257, 422], "nice": false, "zero": false}, "axis": null}, "x2": {"datum": 11.03}}},
  {"data": {"name": "d_boxes"}, "mark": {"type": "bar", "width": 7, "stroke": "#333333", "strokeWidth": 0.8},
   "encoding": {"x": {"field": "i", "type": "quantitative", "scale": {"domain": [0.79, 11.03], "range": [257, 422], "nice": false, "zero": false}, "axis": null}, "y": {"field": "lo", "type": "quantitative", "scale": {"domain": [37, 43.05], "range": [142.5, 9.2], "nice": false, "zero": false}, "axis": null}, "y2": {"field": "hi"},
    "fill": {"field": "group", "type": "nominal", "scale": {"domain": ["A", "B"], "range": ["#e8201c", "#1d6fb5"]}, "legend": null}}},
  {"data": {"values": [{}]}, "mark": {"type": "text", "font": "Liberation Sans", "fontSize": 6, "align": "right", "baseline": "middle", "color": "#666666"},
   "encoding": {"x": {"datum": 10.9, "type": "quantitative", "scale": {"domain": [0.79, 11.03], "range": [257, 422], "nice": false, "zero": false}, "axis": null}, "y": {"datum": 42.75, "type": "quantitative", "scale": {"domain": [37, 43.05], "range": [142.5, 9.2], "nice": false, "zero": false}, "axis": null}, "text": {"value": "Box heights are 1σ"}}},
  {"data": {"values": [{}]}, "mark": {"type": "text", "font": "Liberation Sans", "fontSize": 13, "lineHeight": 15.7, "align": "left", "baseline": "top", "color": "#222222"},
   "encoding": {"x": {"datum": 1.95, "type": "quantitative", "scale": {"domain": [0.79, 11.03], "range": [257, 422], "nice": false, "zero": false}, "axis": null}, "y": {"datum": 36.6, "type": "quantitative", "scale": {"domain": [37, 43.05], "range": [142.5, 9.2], "nice": false, "zero": false}, "axis": null}, "text": {"value": ["Mean age = 39.7±0.78 Ma", "95% conf. MSWD = 0.14", "probability = 0.99"]}}}
 ]
}
], "spacing": 19},
{"spacing": 9, "vconcat": [
{"hconcat": [
{
 "width": 441, "height": 313,
 "resolve": {"scale": {"x": "independent", "y": "independent"}},
 "layer": [
  {"data": {"name": "e_curve"}, "mark": {"type": "line", "color": "#e3191e", "strokeWidth": 3, "interpolate": "monotone"},
   "encoding": {"x": {"field": "age", "type": "quantitative", "scale": {"domain": [0, 655], "nice": false, "zero": false}, "axis": null},
    "y": {"field": "p", "type": "quantitative", "scale": {"domain": [0, 50], "nice": false, "zero": false}, "axis": null}}},
  {"data": {"name": "e_bars"}, "mark": {"type": "rect", "fill": "#51b9b9", "fillOpacity": 0.5, "stroke": "#3d5b5b", "strokeWidth": 0.8},
   "encoding": {"x": {"field": "x0", "type": "quantitative", "scale": {"domain": [0, 655], "nice": false, "zero": false}, "axis": {"title": "Age (Ma)", "values": [0,100,200,300,400,500,600]}},
    "x2": {"field": "x1"},
    "y": {"field": "n", "type": "quantitative", "scale": {"domain": [0, 50], "nice": false, "zero": false}, "axis": {"title": "Number", "values": [0,5,10,15,20,25,30,35,40,45,50]}},
    "y2": {"datum": 0}}},
  {"data": {"values": [{}]}, "mark": {"type": "rule", "color": "#666666", "strokeWidth": 1.2},
   "encoding": {"x": {"datum": 0, "type": "quantitative", "scale": {"domain": [0, 655], "nice": false, "zero": false}, "axis": null}, "x2": {"datum": 655}, "y": {"datum": 50, "type": "quantitative", "scale": {"domain": [0, 50], "nice": false, "zero": false}, "axis": null}}},
  {"data": {"name": "e_peaks"}, "mark": {"type": "text", "fontWeight": "bold", "fontSize": 15, "color": "#222222"},
   "encoding": {"x": {"field": "age", "type": "quantitative", "scale": {"domain": [0, 655], "nice": false, "zero": false}, "axis": null}, "y": {"field": "n", "type": "quantitative", "scale": {"domain": [0, 50], "nice": false, "zero": false}, "axis": null}, "text": {"field": "label"}}},
  {"data": {"values": [{}]}, "mark": {"type": "text", "fontWeight": "bold", "fontSize": 16, "align": "left", "baseline": "middle", "color": "#111111"},
   "encoding": {"x": {"datum": -75.7, "type": "quantitative", "scale": {"domain": [0, 655], "nice": false, "zero": false}, "axis": null}, "y": {"datum": 54.15, "type": "quantitative", "scale": {"domain": [0, 50], "nice": false, "zero": false}, "axis": null}, "text": {"value": "(e)"}}},
  {"data": {"values": [{}]}, "mark": {"type": "text", "fontWeight": "bold", "fontSize": 18, "align": "left", "baseline": "middle", "color": "#111111"},
   "encoding": {"x": {"datum": 49, "type": "quantitative", "scale": {"domain": [0, 655], "nice": false, "zero": false}, "axis": null}, "y": {"datum": 51.76, "type": "quantitative", "scale": {"domain": [0, 50], "nice": false, "zero": false}, "axis": null}, "text": {"value": "AFMZr3"}}},
  {"data": {"values": [{}]}, "mark": {"type": "rect", "fill": "#ffffff"},
   "encoding": {"x": {"datum": -0.83, "type": "quantitative", "scale": {"domain": [0.78, 11.04], "range": [283.3, 440.7], "nice": false, "zero": false}, "axis": null},
    "x2": {"datum": 11.25},
    "y": {"datum": 29.8, "type": "quantitative", "scale": {"domain": [34, 44.2], "range": [131, 1.15], "nice": false, "zero": false}, "axis": {"orient": "left", "offset": -274, "values": [34,36,38,40,42,44], "labelFontSize": 10, "labelFont": "Liberation Sans", "labelColor": "#444444", "ticks": false, "domain": false, "grid": false, "title": null, "labelPadding": 0, "zindex": 1}},
    "y2": {"datum": 44.5}}},
  {"data": {"values": [{}]}, "mark": {"type": "rect", "fill": "#e2e4e6", "stroke": "#c2c2c2", "strokeWidth": 1},
   "encoding": {"x": {"datum": 0.78, "type": "quantitative", "scale": {"domain": [0.78, 11.04], "range": [283.3, 440.7], "nice": false, "zero": false}, "axis": null}, "x2": {"datum": 11.04}, "y": {"datum": 34, "type": "quantitative", "scale": {"domain": [34, 44.2], "range": [131, 1.15], "nice": false, "zero": false}, "axis": null}, "y2": {"datum": 44.2}}},
  {"data": {"values": [{"v": 36}, {"v": 42}]}, "mark": {"type": "rule", "color": "#cdcdcd", "strokeWidth": 1},
   "encoding": {"y": {"field": "v", "type": "quantitative", "scale": {"domain": [34, 44.2], "range": [131, 1.15], "nice": false, "zero": false}, "axis": null}, "x": {"datum": 0.78, "type": "quantitative", "scale": {"domain": [0.78, 11.04], "range": [283.3, 440.7], "nice": false, "zero": false}, "axis": null}, "x2": {"datum": 11.04}}},
  {"data": {"values": [{}]}, "mark": {"type": "rule", "color": "#5a6a5a", "strokeWidth": 1.2},
   "encoding": {"y": {"datum": 39.25, "type": "quantitative", "scale": {"domain": [34, 44.2], "range": [131, 1.15], "nice": false, "zero": false}, "axis": null}, "x": {"datum": 0.78, "type": "quantitative", "scale": {"domain": [0.78, 11.04], "range": [283.3, 440.7], "nice": false, "zero": false}, "axis": null}, "x2": {"datum": 11.04}}},
  {"data": {"name": "e_boxes"}, "mark": {"type": "bar", "width": 6, "stroke": "#333333", "strokeWidth": 0.8},
   "encoding": {"x": {"field": "i", "type": "quantitative", "scale": {"domain": [0.78, 11.04], "range": [283.3, 440.7], "nice": false, "zero": false}, "axis": null}, "y": {"field": "lo", "type": "quantitative", "scale": {"domain": [34, 44.2], "range": [131, 1.15], "nice": false, "zero": false}, "axis": null}, "y2": {"field": "hi"},
    "fill": {"field": "group", "type": "nominal", "scale": {"domain": ["A", "B"], "range": ["#e8201c", "#1d6fb5"]}, "legend": null}}},
  {"data": {"values": [{}]}, "mark": {"type": "text", "font": "Liberation Sans", "fontSize": 6, "align": "right", "baseline": "middle", "color": "#666666"},
   "encoding": {"x": {"datum": 10.9, "type": "quantitative", "scale": {"domain": [0.78, 11.04], "range": [283.3, 440.7], "nice": false, "zero": false}, "axis": null}, "y": {"datum": 43.8, "type": "quantitative", "scale": {"domain": [34, 44.2], "range": [131, 1.15], "nice": false, "zero": false}, "axis": null}, "text": {"value": "Box heights are 2σ"}}},
  {"data": {"values": [{}]}, "mark": {"type": "text", "font": "Liberation Sans", "fontSize": 13, "lineHeight": 15, "align": "left", "baseline": "top", "color": "#222222"},
   "encoding": {"x": {"datum": 1.05, "type": "quantitative", "scale": {"domain": [0.78, 11.04], "range": [283.3, 440.7], "nice": false, "zero": false}, "axis": null}, "y": {"datum": 33.16, "type": "quantitative", "scale": {"domain": [34, 44.2], "range": [131, 1.15], "nice": false, "zero": false}, "axis": null}, "text": {"value": ["Mean age = 40.4± 1 Ma", "95% conf. MSWD = 0.17", "probability = 0.99"]}}}
 ]
},
{
 "width": 454, "height": 313,
 "resolve": {"scale": {"x": "independent", "y": "independent"}},
 "layer": [
  {"data": {"name": "f_curve"}, "mark": {"type": "line", "color": "#e3191e", "strokeWidth": 3, "interpolate": "monotone"},
   "encoding": {"x": {"field": "age", "type": "quantitative", "scale": {"domain": [0, 605], "nice": false, "zero": false}, "axis": null},
    "y": {"field": "p", "type": "quantitative", "scale": {"domain": [0, 29], "nice": false, "zero": false}, "axis": {"orient": "right", "title": "Relative probability", "labels": false, "ticks": false, "domain": false, "grid": false, "titlePadding": 8}}}},
  {"data": {"name": "f_bars"}, "mark": {"type": "rect", "fill": "#51b9b9", "fillOpacity": 0.5, "stroke": "#3d5b5b", "strokeWidth": 0.8},
   "encoding": {"x": {"field": "x0", "type": "quantitative", "scale": {"domain": [0, 605], "nice": false, "zero": false}, "axis": {"title": "Age (Ma)", "values": [0,100,200,300,400,500,600]}},
    "x2": {"field": "x1"},
    "y": {"field": "n", "type": "quantitative", "scale": {"domain": [0, 29], "nice": false, "zero": false}, "axis": {"title": null, "values": [0,5,10,15,20,25]}},
    "y2": {"datum": 0}}},
  {"data": {"values": [{}]}, "mark": {"type": "rule", "color": "#666666", "strokeWidth": 1.2},
   "encoding": {"x": {"datum": 0, "type": "quantitative", "scale": {"domain": [0, 605], "nice": false, "zero": false}, "axis": null}, "x2": {"datum": 605}, "y": {"datum": 29, "type": "quantitative", "scale": {"domain": [0, 29], "nice": false, "zero": false}, "axis": null}}},
  {"data": {"name": "f_peaks"}, "mark": {"type": "text", "fontWeight": "bold", "fontSize": 15, "color": "#222222"},
   "encoding": {"x": {"field": "age", "type": "quantitative", "scale": {"domain": [0, 605], "nice": false, "zero": false}, "axis": null}, "y": {"field": "n", "type": "quantitative", "scale": {"domain": [0, 29], "nice": false, "zero": false}, "axis": null}, "text": {"field": "label"}}},
  {"data": {"values": [{}]}, "mark": {"type": "text", "fontWeight": "bold", "fontSize": 16, "align": "left", "baseline": "middle", "color": "#111111"},
   "encoding": {"x": {"datum": -66.6, "type": "quantitative", "scale": {"domain": [0, 605], "nice": false, "zero": false}, "axis": null}, "y": {"datum": 31.69, "type": "quantitative", "scale": {"domain": [0, 29], "nice": false, "zero": false}, "axis": null}, "text": {"value": "(f)"}}},
  {"data": {"values": [{}]}, "mark": {"type": "text", "fontWeight": "bold", "fontSize": 18, "align": "left", "baseline": "middle", "color": "#111111"},
   "encoding": {"x": {"datum": 36, "type": "quantitative", "scale": {"domain": [0, 605], "nice": false, "zero": false}, "axis": null}, "y": {"datum": 30.3, "type": "quantitative", "scale": {"domain": [0, 29], "nice": false, "zero": false}, "axis": null}, "text": {"value": "Det0"}}},
  {"data": {"values": [{}]}, "mark": {"type": "rect", "fill": "#ffffff"},
   "encoding": {"x": {"datum": -1.3, "type": "quantitative", "scale": {"domain": [0.33, 10.95], "range": [290, 459], "nice": false, "zero": false}, "axis": null},
    "x2": {"datum": 11.05},
    "y": {"datum": 22.8, "type": "quantitative", "scale": {"domain": [34, 62], "range": [143.7, 6], "nice": false, "zero": false}, "axis": {"orient": "left", "offset": -280, "values": [34,38,42,46,50,54,58,62], "labelFontSize": 10, "labelFont": "Liberation Sans", "labelColor": "#444444", "ticks": false, "domain": false, "grid": false, "title": null, "labelPadding": 0, "zindex": 1}},
    "y2": {"datum": 64}}},
  {"data": {"values": [{}]}, "mark": {"type": "rect", "fill": "#e2e4e6", "stroke": "#c2c2c2", "strokeWidth": 1},
   "encoding": {"x": {"datum": 0.33, "type": "quantitative", "scale": {"domain": [0.33, 10.95], "range": [290, 459], "nice": false, "zero": false}, "axis": null}, "x2": {"datum": 10.95}, "y": {"datum": 34, "type": "quantitative", "scale": {"domain": [34, 62], "range": [143.7, 6], "nice": false, "zero": false}, "axis": null}, "y2": {"datum": 62}}},
  {"data": {"values": [{"v": 38}, {"v": 42}, {"v": 50}, {"v": 54}, {"v": 58}]}, "mark": {"type": "rule", "color": "#c4c4c4", "strokeWidth": 1},
   "encoding": {"y": {"field": "v", "type": "quantitative", "scale": {"domain": [34, 62], "range": [143.7, 6], "nice": false, "zero": false}, "axis": null}, "x": {"datum": 0.33, "type": "quantitative", "scale": {"domain": [0.33, 10.95], "range": [290, 459], "nice": false, "zero": false}, "axis": null}, "x2": {"datum": 10.95}}},
  {"data": {"values": [{}]}, "mark": {"type": "rule", "color": "#5a6a5a", "strokeWidth": 1.2},
   "encoding": {"y": {"datum": 46.68, "type": "quantitative", "scale": {"domain": [34, 62], "range": [143.7, 6], "nice": false, "zero": false}, "axis": null}, "x": {"datum": 0.33, "type": "quantitative", "scale": {"domain": [0.33, 10.95], "range": [290, 459], "nice": false, "zero": false}, "axis": null}, "x2": {"datum": 10.95}}},
  {"data": {"name": "f_boxes"}, "mark": {"type": "bar", "width": 6.5, "stroke": "#333333", "strokeWidth": 0.8},
   "encoding": {"x": {"field": "i", "type": "quantitative", "scale": {"domain": [0.33, 10.95], "range": [290, 459], "nice": false, "zero": false}, "axis": null}, "y": {"field": "lo", "type": "quantitative", "scale": {"domain": [34, 62], "range": [143.7, 6], "nice": false, "zero": false}, "axis": null}, "y2": {"field": "hi"},
    "fill": {"field": "group", "type": "nominal", "scale": {"domain": ["A", "B"], "range": ["#e8201c", "#1d6fb5"]}, "legend": null}}},
  {"data": {"values": [{}]}, "mark": {"type": "text", "font": "Liberation Sans", "fontSize": 6, "align": "right", "baseline": "middle", "color": "#666666"},
   "encoding": {"x": {"datum": 10.8, "type": "quantitative", "scale": {"domain": [0.33, 10.95], "range": [290, 459], "nice": false, "zero": false}, "axis": null}, "y": {"datum": 61, "type": "quantitative", "scale": {"domain": [34, 62], "range": [143.7, 6], "nice": false, "zero": false}, "axis": null}, "text": {"value": "Box heights are 2 σ"}}},
  {"data": {"values": [{}]}, "mark": {"type": "text", "font": "Liberation Sans", "fontSize": 13, "lineHeight": 14.5, "align": "left", "baseline": "top", "color": "#222222"},
   "encoding": {"x": {"datum": 0.62, "type": "quantitative", "scale": {"domain": [0.33, 10.95], "range": [290, 459], "nice": false, "zero": false}, "axis": null}, "y": {"datum": 31.3, "type": "quantitative", "scale": {"domain": [34, 62], "range": [143.7, 6], "nice": false, "zero": false}, "axis": null}, "text": {"value": ["Mean age =  41.1± 1 Ma", "95% conf. MSWD = 0.25", "probability = 0.78"]}}}
 ]
}
], "spacing": 36},
{"hconcat": [
{
 "width": 434, "height": 325,
 "resolve": {"scale": {"x": "independent", "y": "independent"}},
 "layer": [
  {"data": {"name": "g_curve"}, "mark": {"type": "line", "color": "#e3191e", "strokeWidth": 3, "interpolate": "monotone"},
   "encoding": {"x": {"field": "age", "type": "quantitative", "scale": {"domain": [0, 650], "nice": false, "zero": false}, "axis": null},
    "y": {"field": "p", "type": "quantitative", "scale": {"domain": [0, 35], "nice": false, "zero": false}, "axis": null}}},
  {"data": {"name": "g_bars"}, "mark": {"type": "rect", "fill": "#51b9b9", "fillOpacity": 0.5, "stroke": "#3d5b5b", "strokeWidth": 0.8},
   "encoding": {"x": {"field": "x0", "type": "quantitative", "scale": {"domain": [0, 650], "nice": false, "zero": false}, "axis": {"title": "Age (Ma)", "values": [0,100,200,300,400,500,600]}},
    "x2": {"field": "x1"},
    "y": {"field": "n", "type": "quantitative", "scale": {"domain": [0, 35], "nice": false, "zero": false}, "axis": {"title": "Number", "values": [0,5,10,15,20,25,30,35]}},
    "y2": {"datum": 0}}},
  {"data": {"values": [{}]}, "mark": {"type": "rule", "color": "#666666", "strokeWidth": 1.2},
   "encoding": {"x": {"datum": 0, "type": "quantitative", "scale": {"domain": [0, 650], "nice": false, "zero": false}, "axis": null}, "x2": {"datum": 650}, "y": {"datum": 35, "type": "quantitative", "scale": {"domain": [0, 35], "nice": false, "zero": false}, "axis": null}}},
  {"data": {"name": "g_peaks"}, "mark": {"type": "text", "fontWeight": "bold", "fontSize": 15, "color": "#222222"},
   "encoding": {"x": {"field": "age", "type": "quantitative", "scale": {"domain": [0, 650], "nice": false, "zero": false}, "axis": null}, "y": {"field": "n", "type": "quantitative", "scale": {"domain": [0, 35], "nice": false, "zero": false}, "axis": null}, "text": {"field": "label"}}},
  {"data": {"values": [{}]}, "mark": {"type": "text", "fontWeight": "bold", "fontSize": 16, "align": "left", "baseline": "middle", "color": "#111111"},
   "encoding": {"x": {"datum": -76.4, "type": "quantitative", "scale": {"domain": [0, 650], "nice": false, "zero": false}, "axis": null}, "y": {"datum": 38.0, "type": "quantitative", "scale": {"domain": [0, 35], "nice": false, "zero": false}, "axis": null}, "text": {"value": "(g)"}}},
  {"data": {"values": [{}]}, "mark": {"type": "text", "fontWeight": "bold", "fontSize": 18, "align": "left", "baseline": "middle", "color": "#111111"},
   "encoding": {"x": {"datum": 41.9, "type": "quantitative", "scale": {"domain": [0, 650], "nice": false, "zero": false}, "axis": null}, "y": {"datum": 36.72, "type": "quantitative", "scale": {"domain": [0, 35], "nice": false, "zero": false}, "axis": null}, "text": {"value": "AFMZr2"}}},
  {"data": {"values": [{}]}, "mark": {"type": "rect", "fill": "#ffffff"},
   "encoding": {"x": {"datum": -0.2, "type": "quantitative", "scale": {"domain": [0.226, 3.01], "range": [278.3, 459.3], "nice": false, "zero": false}, "axis": null},
    "x2": {"datum": 3.04},
    "y": {"datum": 33.7, "type": "quantitative", "scale": {"domain": [34, 43], "range": [155.7, 4], "nice": false, "zero": false}, "axis": {"orient": "left", "offset": -271, "values": [34,36,38,40,42], "labelFontSize": 12, "labelFont": "Liberation Sans", "labelColor": "#444444", "ticks": false, "domain": false, "grid": false, "title": null, "labelPadding": 0, "zindex": 1}},
    "y2": {"datum": 43.4}}},
  {"data": {"values": [{}]}, "mark": {"type": "rect", "fill": "#e2e4e6", "stroke": "#c2c2c2", "strokeWidth": 1},
   "encoding": {"x": {"datum": 0.226, "type": "quantitative", "scale": {"domain": [0.226, 3.01], "range": [278.3, 459.3], "nice": false, "zero": false}, "axis": null}, "x2": {"datum": 3.01}, "y": {"datum": 34, "type": "quantitative", "scale": {"domain": [34, 43], "range": [155.7, 4], "nice": false, "zero": false}, "axis": null}, "y2": {"datum": 43}}},
  {"data": {"values": [{"v": 36}, {"v": 40}, {"v": 42}]}, "mark": {"type": "rule", "color": "#c4c4c4", "strokeWidth": 1},
   "encoding": {"y": {"field": "v", "type": "quantitative", "scale": {"domain": [34, 43], "range": [155.7, 4], "nice": false, "zero": false}, "axis": null}, "x": {"datum": 0.226, "type": "quantitative", "scale": {"domain": [0.226, 3.01], "range": [278.3, 459.3], "nice": false, "zero": false}, "axis": null}, "x2": {"datum": 3.01}}},
  {"data": {"values": [{}]}, "mark": {"type": "rule", "color": "#5cbf5c", "strokeWidth": 1.5},
   "encoding": {"y": {"datum": 38.3, "type": "quantitative", "scale": {"domain": [34, 43], "range": [155.7, 4], "nice": false, "zero": false}, "axis": null}, "x": {"datum": 0.226, "type": "quantitative", "scale": {"domain": [0.226, 3.01], "range": [278.3, 459.3], "nice": false, "zero": false}, "axis": null}, "x2": {"datum": 3.01}}},
  {"data": {"name": "g_boxes"}, "mark": {"type": "bar", "width": 20, "stroke": "#333333", "strokeWidth": 1},
   "encoding": {"x": {"field": "i", "type": "quantitative", "scale": {"domain": [0.226, 3.01], "range": [278.3, 459.3], "nice": false, "zero": false}, "axis": null}, "y": {"field": "lo", "type": "quantitative", "scale": {"domain": [34, 43], "range": [155.7, 4], "nice": false, "zero": false}, "axis": null}, "y2": {"field": "hi"},
    "fill": {"field": "group", "type": "nominal", "scale": {"domain": ["A", "B"], "range": ["#e8201c", "#1d6fb5"]}, "legend": null}}}
 ]
},
{
 "width": 446, "height": 327,
 "resolve": {"scale": {"x": "independent", "y": "independent"}},
 "layer": [
  {"data": {"name": "h_curve"}, "mark": {"type": "line", "color": "#e3191e", "strokeWidth": 3, "interpolate": "monotone"},
   "encoding": {"x": {"field": "age", "type": "quantitative", "scale": {"domain": [0, 550], "nice": false, "zero": false}, "axis": null},
    "y": {"field": "p", "type": "quantitative", "scale": {"domain": [0, 42], "nice": false, "zero": false}, "axis": {"orient": "right", "title": "Relative probability", "labels": false, "ticks": false, "domain": false, "grid": false, "titlePadding": 8}}}},
  {"data": {"name": "h_bars"}, "mark": {"type": "rect", "fill": "#51b9b9", "fillOpacity": 0.5, "stroke": "#3d5b5b", "strokeWidth": 0.8},
   "encoding": {"x": {"field": "x0", "type": "quantitative", "scale": {"domain": [0, 550], "nice": false, "zero": false}, "axis": {"title": "Age (Ma)", "values": [0,100,200,300,400,500]}},
    "x2": {"field": "x1"},
    "y": {"field": "n", "type": "quantitative", "scale": {"domain": [0, 42], "nice": false, "zero": false}, "axis": {"title": null, "values": [0,5,10,15,20,25,30,35,40]}},
    "y2": {"datum": 0}}},
  {"data": {"values": [{}]}, "mark": {"type": "rule", "color": "#666666", "strokeWidth": 1.2},
   "encoding": {"x": {"datum": 0, "type": "quantitative", "scale": {"domain": [0, 550], "nice": false, "zero": false}, "axis": null}, "x2": {"datum": 550}, "y": {"datum": 42, "type": "quantitative", "scale": {"domain": [0, 42], "nice": false, "zero": false}, "axis": null}}},
  {"data": {"name": "h_peaks"}, "mark": {"type": "text", "fontWeight": "bold", "fontSize": 15, "color": "#222222"},
   "encoding": {"x": {"field": "age", "type": "quantitative", "scale": {"domain": [0, 550], "nice": false, "zero": false}, "axis": null}, "y": {"field": "n", "type": "quantitative", "scale": {"domain": [0, 42], "nice": false, "zero": false}, "axis": null}, "text": {"field": "label"}}},
  {"data": {"values": [{}]}, "mark": {"type": "text", "fontWeight": "bold", "fontSize": 16, "align": "left", "baseline": "middle", "color": "#111111"},
   "encoding": {"x": {"datum": -50.6, "type": "quantitative", "scale": {"domain": [0, 550], "nice": false, "zero": false}, "axis": null}, "y": {"datum": 45.34, "type": "quantitative", "scale": {"domain": [0, 42], "nice": false, "zero": false}, "axis": null}, "text": {"value": "(h)"}}},
  {"data": {"values": [{}]}, "mark": {"type": "text", "fontWeight": "bold", "fontSize": 18, "align": "left", "baseline": "middle", "color": "#111111"},
   "encoding": {"x": {"datum": 35.8, "type": "quantitative", "scale": {"domain": [0, 550], "nice": false, "zero": false}, "axis": null}, "y": {"datum": 43.54, "type": "quantitative", "scale": {"domain": [0, 42], "nice": false, "zero": false}, "axis": null}, "text": {"value": "AFMZr1"}}},
  {"data": {"values": [{}]}, "mark": {"type": "rect", "fill": "#ffffff"},
   "encoding": {"x": {"datum": -0.93, "type": "quantitative", "scale": {"domain": [0.74, 11.09], "range": [264.3, 438.6], "nice": false, "zero": false}, "axis": null},
    "x2": {"datum": 11.3},
    "y": {"datum": 10.7, "type": "quantitative", "scale": {"domain": [20, 44.2], "range": [142.6, 0.8], "nice": false, "zero": false}, "axis": {"orient": "left", "offset": -254, "values": [20,24,28,32,36,40,44], "labelFontSize": 10, "labelFont": "Liberation Sans", "labelColor": "#444444", "ticks": false, "domain": false, "grid": false, "title": null, "labelPadding": 0, "zindex": 1}},
    "y2": {"datum": 45}}},
  {"data": {"values": [{}]}, "mark": {"type": "rect", "fill": "#e2e4e6", "stroke": "#c2c2c2", "strokeWidth": 1},
   "encoding": {"x": {"datum": 0.74, "type": "quantitative", "scale": {"domain": [0.74, 11.09], "range": [264.3, 438.6], "nice": false, "zero": false}, "axis": null}, "x2": {"datum": 11.09}, "y": {"datum": 20, "type": "quantitative", "scale": {"domain": [20, 44.2], "range": [142.6, 0.8], "nice": false, "zero": false}, "axis": null}, "y2": {"datum": 44.2}}},
  {"data": {"values": [{"v": 24}, {"v": 28}, {"v": 32}, {"v": 40}]}, "mark": {"type": "rule", "color": "#cdcdcd", "strokeWidth": 1},
   "encoding": {"y": {"field": "v", "type": "quantitative", "scale": {"domain": [20, 44.2], "range": [142.6, 0.8], "nice": false, "zero": false}, "axis": null}, "x": {"datum": 0.74, "type": "quantitative", "scale": {"domain": [0.74, 11.09], "range": [264.3, 438.6], "nice": false, "zero": false}, "axis": null}, "x2": {"datum": 11.09}}},
  {"data": {"values": [{}]}, "mark": {"type": "rule", "color": "#5a6a5a", "strokeWidth": 1.2},
   "encoding": {"y": {"datum": 37.63, "type": "quantitative", "scale": {"domain": [20, 44.2], "range": [142.6, 0.8], "nice": false, "zero": false}, "axis": null}, "x": {"datum": 0.74, "type": "quantitative", "scale": {"domain": [0.74, 11.09], "range": [264.3, 438.6], "nice": false, "zero": false}, "axis": null}, "x2": {"datum": 11.09}}},
  {"data": {"name": "h_boxes"}, "mark": {"type": "bar", "width": 6, "stroke": "#333333", "strokeWidth": 0.8},
   "encoding": {"x": {"field": "i", "type": "quantitative", "scale": {"domain": [0.74, 11.09], "range": [264.3, 438.6], "nice": false, "zero": false}, "axis": null}, "y": {"field": "lo", "type": "quantitative", "scale": {"domain": [20, 44.2], "range": [142.6, 0.8], "nice": false, "zero": false}, "axis": null}, "y2": {"field": "hi"},
    "fill": {"field": "group", "type": "nominal", "scale": {"domain": ["A", "B"], "range": ["#e8201c", "#1d6fb5"]}, "legend": null}}},
  {"data": {"values": [{}]}, "mark": {"type": "text", "font": "Liberation Sans", "fontSize": 6, "align": "right", "baseline": "middle", "color": "#666666"},
   "encoding": {"x": {"datum": 10.9, "type": "quantitative", "scale": {"domain": [0.74, 11.09], "range": [264.3, 438.6], "nice": false, "zero": false}, "axis": null}, "y": {"datum": 43.3, "type": "quantitative", "scale": {"domain": [20, 44.2], "range": [142.6, 0.8], "nice": false, "zero": false}, "axis": null}, "text": {"value": "Box heights are 2σ"}}},
  {"data": {"values": [{}]}, "mark": {"type": "text", "font": "Liberation Sans", "fontSize": 13, "lineHeight": 15.7, "align": "left", "baseline": "top", "color": "#222222"},
   "encoding": {"x": {"datum": 1.63, "type": "quantitative", "scale": {"domain": [0.74, 11.09], "range": [264.3, 438.6], "nice": false, "zero": false}, "axis": null}, "y": {"datum": 18.12, "type": "quantitative", "scale": {"domain": [20, 44.2], "range": [142.6, 0.8], "nice": false, "zero": false}, "axis": null}, "text": {"value": ["Mean age = 37.6± 2.1 Ma", "95% conf. MSWD = 0.037", "probability = 1"]}}}
 ]
}
], "spacing": 23}
]}
]}
]
}
